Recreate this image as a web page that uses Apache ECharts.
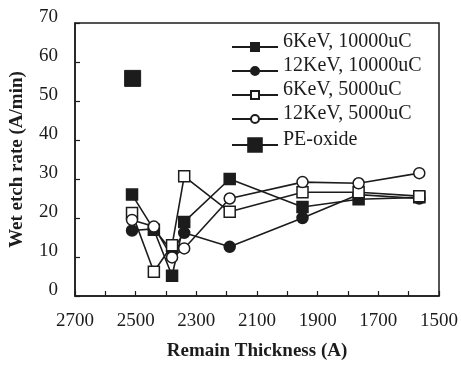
<!DOCTYPE html>
<html>
<head>
<meta charset="utf-8">
<script src="https://cdn.jsdelivr.net/npm/echarts@6/dist/echarts.min.js"></script>
<style>
  html, body { margin: 0; padding: 0; background: #fff; }
  #chart { width: 461px; height: 366px; }
</style>
</head>
<body>
<div id="chart"></div>
<script>
// Remaining oxide thickness (A) for each measurement step
const thickness = [2512, 2440, 2380, 2340, 2190, 1950, 1765, 1565];

// Wet etch rate (A/min) for each implant condition
const etch6k10k = [26, 17, 5.2, 19, 30, 22.8, 24.8, 25.3];
const etch12k10k = [16.8, 17.2, 11.5, 16.2, 12.6, 20, 26, 25];
const etch6k5k = [21.3, 6.2, 13, 30.7, 21.6, 26.6, 26.6, 25.6];
const etch12k5k = [19.5, 17.8, 9.9, 12.2, 25, 29.2, 28.9, 31.5];

// Reference PE-oxide film
const peThickness = [2510];
const peEtch = [55.8];

const seriesNames = ['6KeV, 10000uC', '12KeV, 10000uC', '6KeV, 5000uC', '12KeV, 5000uC', 'PE-oxide'];

const ink = '#1c1c1c';
const serif = '"Liberation Serif", "DejaVu Serif", serif';

function pairs(xs, ys) {
  return xs.map((x, i) => [x, ys[i]]);
}

function lineSeries(name, ys, symbol, filled, size) {
  return {
    name: name,
    type: 'line',
    data: pairs(thickness, ys),
    symbol: symbol,
    symbolSize: size,
    showAllSymbol: true,
    lineStyle: { color: ink, width: 1.6 },
    itemStyle: { color: filled ? ink : '#fff', borderColor: ink, borderWidth: 1.5 },
    emphasis: { disabled: true },
    animation: false
  };
}

// Legend labels sit a little above their line/marker icon
const legendText = {
  fontFamily: serif, fontSize: 20, color: ink,
  rich: { t: { fontFamily: serif, fontSize: 20, color: ink, padding: [0, 0, 10, 0] } }
};

const chart = echarts.init(document.getElementById('chart'), null, { renderer: 'canvas' });

chart.setOption({
  backgroundColor: '#fff',
  animation: false,
  grid: {
    left: 75, right: 19, top: 23, bottom: 70,
    show: true, borderColor: ink, borderWidth: 1.5, backgroundColor: 'transparent'
  },
  legend: [
    {
      data: seriesNames.slice(0, 4),
      orient: 'vertical',
      left: 231, top: 32,
      padding: 0,
      itemWidth: 46, itemHeight: 10, itemGap: 4,
      selectedMode: false,
      formatter: '{t|{name}}',
      textStyle: legendText
    },
    {
      data: [seriesNames[4]],
      orient: 'vertical',
      left: 231, top: 130,
      padding: 0,
      itemWidth: 46, itemHeight: 17,
      selectedMode: false,
      formatter: '{t|{name}}',
      textStyle: legendText
    }
  ],
  xAxis: {
    type: 'value',
    min: 1500, max: 2700, interval: 100,
    inverse: true,
    name: 'Remain Thickness (A)',
    nameLocation: 'middle',
    nameGap: 46,
    nameTextStyle: { fontFamily: serif, fontSize: 19, fontWeight: 'bold', color: ink },
    axisLine: { lineStyle: { color: ink, width: 1.5 } },
    axisTick: { inside: true, length: 5, lineStyle: { color: ink, width: 1.2 } },
    splitLine: { show: false },
    axisLabel: {
      margin: 16,
      fontFamily: serif, fontSize: 19, color: ink,
      formatter: v => ((v - 1500) % 200 === 0 ? String(v) : '')
    }
  },
  yAxis: {
    type: 'value',
    min: 0, max: 70, interval: 10,
    name: 'Wet etch rate (A/min)',
    nameLocation: 'middle',
    nameGap: 48,
    nameTextStyle: { fontFamily: serif, fontSize: 19, fontWeight: 'bold', color: ink },
    axisLine: { show: true, lineStyle: { color: ink, width: 1.5 } },
    axisTick: { show: true, inside: true, length: 5, lineStyle: { color: ink, width: 1.2 } },
    splitLine: { show: false },
    axisLabel: {
      margin: 17,
      fontFamily: serif, fontSize: 19, color: ink,
      // tick values are printed slightly above their tick marks
      formatter: '{v|{value}}',
      rich: { v: { fontFamily: serif, fontSize: 19, color: ink, padding: [0, 0, 11, 0] } }
    }
  },
  series: [
    lineSeries(seriesNames[0], etch6k10k, 'rect', true, 11),
    lineSeries(seriesNames[1], etch12k10k, 'circle', true, 11),
    lineSeries(seriesNames[2], etch6k5k, 'rect', false, 11),
    lineSeries(seriesNames[3], etch12k5k, 'circle', false, 11),
    {
      name: seriesNames[4],
      type: 'line',
      data: pairs(peThickness, peEtch),
      symbol: 'rect',
      symbolSize: 16,
      lineStyle: { color: ink, width: 1.6 },
      itemStyle: { color: ink, borderColor: ink, borderWidth: 1 },
      emphasis: { disabled: true },
      animation: false
    }
  ]
});
</script>
</body>
</html>
